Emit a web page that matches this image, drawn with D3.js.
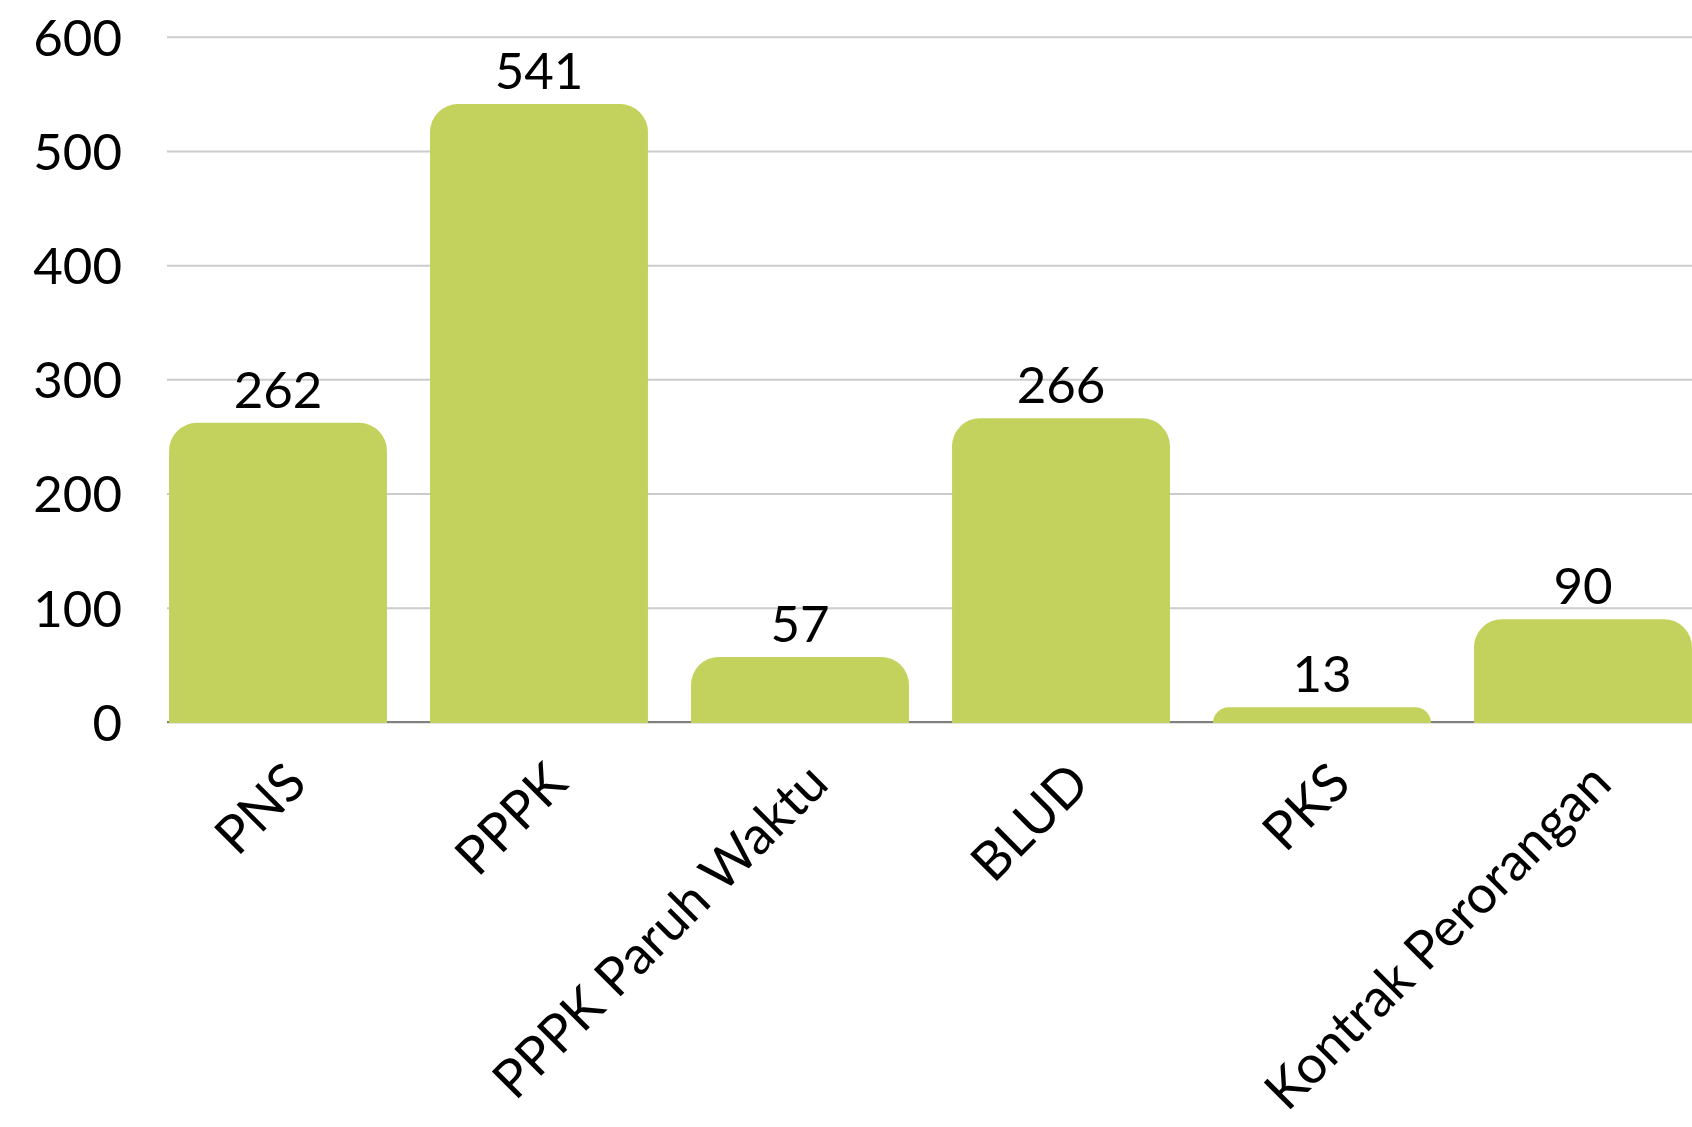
<!DOCTYPE html>
<html><head><meta charset="utf-8">
<script src="https://cdn.jsdelivr.net/npm/d3@7"></script>
<style>html,body{margin:0;padding:0;background:#fff;} svg{display:block;}</style>
</head><body>
<svg id="c" width="1692" height="1127"></svg>
<script>
const categories = ["PNS", "PPPK", "PPPK Paruh Waktu", "BLUD", "PKS", "Kontrak Perorangan"];
const values = [262, 541, 57, 266, 13, 90];
const yTicks = [0, 100, 200, 300, 400, 500, 600];

const W = 1692, H = 1127;
const plotLeft = 167, plotRight = W;
const FONT = "Lato, 'Open Sans', sans-serif";

const svg = d3.select("#c");
svg.append("rect").attr("width", W).attr("height", H).attr("fill", "#ffffff");

const x = d3.scaleBand().domain(categories)
  .range([147.5, 1713.5]).paddingInner(0.165).paddingOuter(0.0825);
const y = d3.scaleLinear().domain([0, 600]).range([722, 36.7]);

// gridlines + tick labels
const yAxis = d3.axisLeft(y).tickValues(yTicks).tickSize(-(plotRight - plotLeft)).tickPadding(45);
const gy = svg.append("g").attr("transform", `translate(${plotLeft},0)`).call(yAxis);
gy.select(".domain").remove();
gy.selectAll(".tick line").attr("stroke", "#cccccc").attr("stroke-width", 2);
gy.selectAll(".tick text").attr("fill", "#000").attr("font-family", FONT)
  .attr("font-size", 51).attr("dy", "0.36em");

// zero axis line
svg.append("line").attr("x1", plotLeft).attr("x2", plotRight)
  .attr("y1", y(0)).attr("y2", y(0)).attr("stroke", "#808080").attr("stroke-width", 2);

// bars with rounded top corners
function barPath(d, i) {
  const x0 = x(categories[i]), x1 = x0 + x.bandwidth();
  const yb = y(0) + 1, yt = y(d);
  const r = Math.min(28, yb - yt, x.bandwidth() / 2);
  return `M${x0},${yb} V${yt + r} A${r},${r} 0 0 1 ${x0 + r},${yt} H${x1 - r} A${r},${r} 0 0 1 ${x1},${yt + r} V${yb} Z`;
}
svg.append("g").selectAll("path").data(values).join("path")
  .attr("d", barPath).attr("fill", "#C3D25D");

// value labels
svg.append("g").selectAll("text").data(values).join("text")
  .attr("x", (d, i) => x(categories[i]) + x.bandwidth() / 2)
  .attr("y", d => y(d) - 15)
  .attr("text-anchor", "middle")
  .attr("font-family", FONT).attr("font-size", 51).attr("fill", "#000")
  .text(d => d);

// category labels rotated -45
svg.append("g").selectAll("text").data(categories).join("text")
  .attr("transform", d => `translate(${x(d) + x.bandwidth() / 2 + 4},759) rotate(-45)`)
  .attr("text-anchor", "end")
  .attr("dy", "0.72em")
  .attr("font-family", FONT).attr("font-size", 53).attr("fill", "#000")
  .text(d => d);
</script>
</body></html>
